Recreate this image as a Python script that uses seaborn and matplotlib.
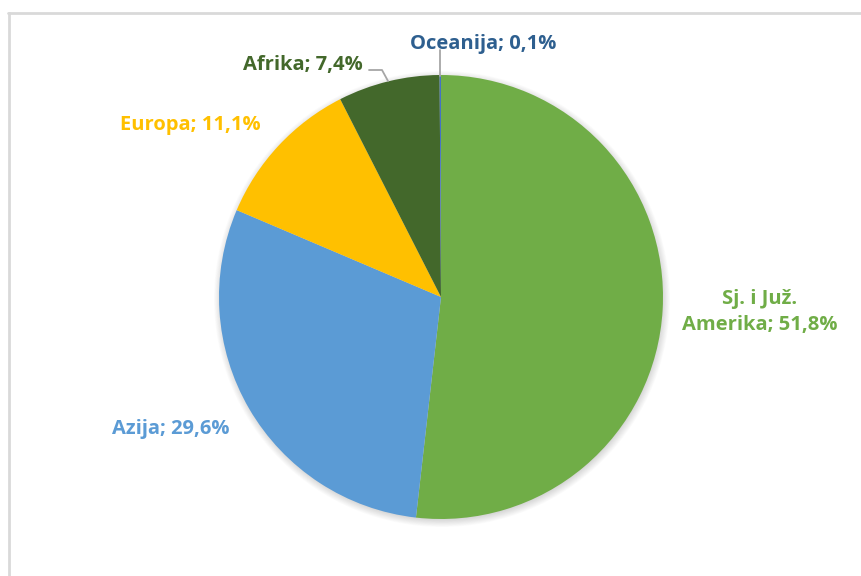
import matplotlib
matplotlib.use("Agg")
import matplotlib.pyplot as plt
from matplotlib.patches import Circle
from matplotlib.lines import Line2D
import seaborn as sns

# Share of each continent
regions = ["Sj. i Juž.\nAmerika", "Azija", "Europa", "Afrika", "Oceanija"]
shares = [51.8, 29.6, 11.1, 7.4, 0.1]
slice_colors = ["#70AD47", "#5B9BD5", "#FFC000", "#43682B", "#4472C4"]
label_colors = ["#70AD47", "#5B9BD5", "#FFC000", "#43682B", "#2E5F8F"]

sns.set_theme(style="white")
plt.rcParams["font.family"] = ["Open Sans", "DejaVu Sans"]

W, H = 861, 576
fig = plt.figure(figsize=(W / 100, H / 100), dpi=100)
ax = fig.add_axes([0, 0, 1, 1])

cx, cy, r = 441, H - 297, 222

# soft drop shadow under the pie
for i in range(10):
    ax.add_patch(Circle((cx + 1, cy - 2), r + 6 - i * 0.8, color="black",
                        alpha=0.016, lw=0, zorder=1))

palette = sns.color_palette(slice_colors)
wedges, _ = ax.pie(shares, colors=palette, startangle=90, counterclock=False,
                   center=(cx, cy), radius=r, frame=True,
                   wedgeprops=dict(linewidth=0))
for w in wedges:
    w.set_zorder(2)
ax.set_xlim(0, W)
ax.set_ylim(0, H)
ax.set_aspect("equal")
ax.axis("off")

# label positions (x, y) in pixel space, measured from the top
label_pos = [(760, 312), (171, 429), (190, 125), (303, 65), (483, 44)]
for name, val, col, (lx, ly) in zip(regions, shares, label_colors, label_pos):
    txt = f"{name}; " + f"{val:.1f}".replace(".", ",") + "%"
    ax.text(lx, H - ly, txt, color=col, fontsize=14.5, fontweight="bold",
            ha="center", va="center", linespacing=1.45, zorder=5)

# leader lines
ax.add_line(Line2D([440, 440], [H - 50, H - 76], color="#A6A6A6", lw=1.3, zorder=4))
ax.add_line(Line2D([369, 382, 388], [H - 70, H - 70, H - 81], color="#A6A6A6",
                   lw=1.3, zorder=4))

# chart frame
ax.add_line(Line2D([8.5, 8.5], [0, H - 13], color="#D9D9D9", lw=2, zorder=0))
ax.add_line(Line2D([8, W], [H - 13, H - 13], color="#D9D9D9", lw=2, zorder=0))

fig.savefig("out.png", dpi=100, facecolor="white")
